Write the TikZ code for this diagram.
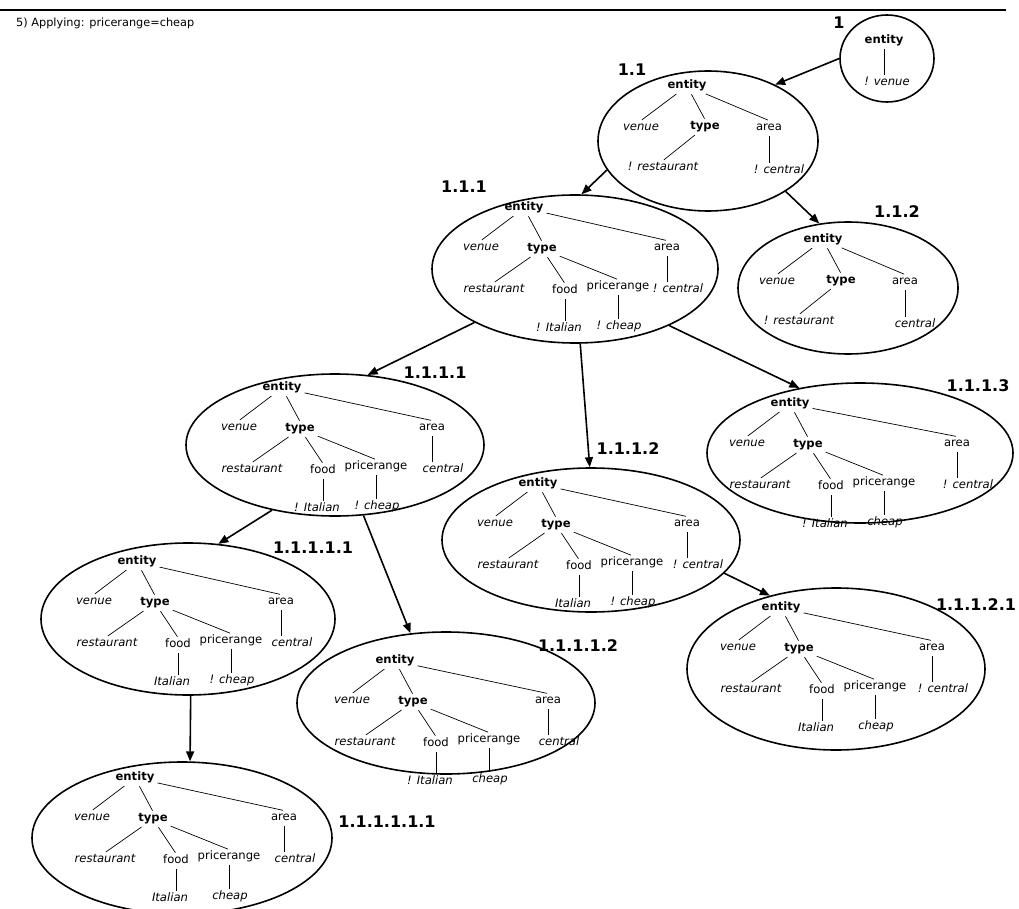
\documentclass[tikz,border=0pt]{standalone}
\usepackage{fontspec}
\setmainfont{DejaVu Sans}
\usetikzlibrary{shapes.geometric,arrows.meta}

\tikzset{
  dialstate/.style={draw, ellipse, line width=1.6pt, inner sep=0pt},
  stateno/.style={font=\fontsize{16}{18}\selectfont\bfseries, inner sep=1pt},
  treeword/.style={inner sep=2pt, text height=8pt, text depth=2.5pt, font=\fontsize{11.6}{13}\selectfont},
  headword/.style={treeword, font=\fontsize{11.6}{13}\selectfont\bfseries},
  slotword/.style={treeword},
  valword/.style={treeword, font=\fontsize{11.6}{13}\selectfont\itshape},
  branch/.style={line width=0.7pt, shorten <=1pt, shorten >=1pt},
  trans/.style={line width=1.6pt, -{Triangle[length=10pt,width=8pt]}}
}

% whole frame: #1 name, #2 x, #3 y, #4 area offset, #5 food value, #6 price value, #7 area value
\newcommand{\fulltree}[7]{%
\begin{scope}[shift={(#2,#3)}]
\node[headword] (#1e) at (0,0) {entity};
\node[valword] (#1v) at (-43,40) {venue};
\node[headword] (#1t) at (18,41) {type};
\node[slotword] (#1a) at (#4,40) {area};
\node[valword] (#1r) at (-30,82) {restaurant};
\node[slotword] (#1f) at (41,83) {food};
\node[slotword] (#1p) at (94,79) {pricerange};
\node[valword] (#1c) at ({#4+11},82) {#7};
\node[valword] (#1i) at (35,121) {#5};
\node[valword] (#1h) at (95,119) {#6};
\end{scope}
\draw[branch] (#1e) -- (#1v.north);
\draw[branch] (#1e) -- (#1t.north);
\draw[branch] (#1e) -- (#1a.north);
\draw[branch] (#1t) -- (#1r.north);
\draw[branch] (#1t) -- (#1f.north);
\draw[branch] (#1t) -- (#1p.north);
\draw[branch] (#1a) -- (#1a |- #1c.north);
\draw[branch] (#1f) -- (#1f |- #1i.north);
\draw[branch] (#1p) -- (#1p |- #1h.north);
}

% frame without food and price: #1 name, #2 x, #3 y, #4 type value, #5 area value
\newcommand{\parttree}[5]{%
\begin{scope}[shift={(#2,#3)}]
\node[headword] (#1e) at (0,0) {entity};
\node[valword] (#1v) at (-46,42) {venue};
\node[headword] (#1t) at (18,41) {type};
\node[slotword] (#1a) at (82,42) {area};
\node[valword] (#1r) at (-24,82) {#4};
\node[valword] (#1c) at (92,85) {#5};
\end{scope}
\draw[branch] (#1e) -- (#1v.north);
\draw[branch] (#1e) -- (#1t.north);
\draw[branch] (#1e) -- (#1a.north);
\draw[branch] (#1t) -- (#1r.north);
\draw[branch] (#1a) -- (#1a |- #1c.north);
}

\begin{document}
\begin{tikzpicture}[x=1pt,y=-1pt]
\useasboundingbox (0,0) rectangle (1019,909);
\coordinate (rulel) at (0,10);
\coordinate (ruler) at (1006,10);
\draw[line width=2.6pt] (rulel) -- (ruler);
\node[anchor=base west, inner sep=0pt, font=\fontsize{11.3}{13}\selectfont] (title) at (16,27) {5) Applying: pricerange=cheap};

\node[dialstate, minimum width=94pt, minimum height=87pt] (s1) at (887,58.5) {};
\node[dialstate, minimum width=220pt, minimum height=140pt] (s11) at (708,141) {};
\node[dialstate, minimum width=286pt, minimum height=148pt] (s111) at (575,269) {};
\node[dialstate, minimum width=220pt, minimum height=132pt] (s112) at (848,288) {};
\node[dialstate, minimum width=298pt, minimum height=142pt] (s1111) at (335,445) {};
\node[dialstate, minimum width=298pt, minimum height=144pt] (s1112) at (591,540) {};
\node[dialstate, minimum width=306pt, minimum height=140pt] (s1113) at (860,453) {};
\node[dialstate, minimum width=294pt, minimum height=152pt] (s11111) at (188,619) {};
\node[dialstate, minimum width=298pt, minimum height=142pt] (s11112) at (446,703) {};
\node[dialstate, minimum width=298pt, minimum height=162pt] (s11121) at (836,669) {};
\node[dialstate, minimum width=300pt, minimum height=152pt] (s111111) at (182,838) {};

\node[stateno] (l1) at (839,23) {1};
\node[stateno] (l11) at (632,70) {1.1};
\node[stateno] (l111) at (464,187) {1.1.1};
\node[stateno] (l112) at (897,212) {1.1.2};
\node[stateno] (l1111) at (435,373) {1.1.1.1};
\node[stateno] (l1112) at (628,449) {1.1.1.2};
\node[stateno] (l1113) at (978,386) {1.1.1.3};
\node[stateno] (l11111) at (313,548) {1.1.1.1.1};
\node[stateno] (l11112) at (578,646) {1.1.1.1.2};
\node[stateno] (l11121) at (976,605) {1.1.1.2.1};
\node[stateno] (l111111) at (387,822) {1.1.1.1.1.1};

\node[headword] (t1e) at (884,41) {entity};
\node[valword] (t1v) at (887,83) {! venue};
\draw[branch] (t1e) -- (t1e |- t1v.north);

\parttree{t11}{687}{86}{! restaurant}{! central}
\parttree{t112}{823}{240}{! restaurant}{central}

\fulltree{t111}{524}{208}{143}{! Italian}{! cheap}{! central}
\fulltree{t1111}{282}{388}{150}{! Italian}{! cheap}{central}
\fulltree{t1112}{538}{484}{149}{Italian}{! cheap}{! central}
\fulltree{t1113}{790}{404}{167}{! Italian}{cheap}{! central}
\fulltree{t11111}{137}{562}{144}{Italian}{! cheap}{central}
\fulltree{t11112}{395}{661}{153}{! Italian}{cheap}{central}
\fulltree{t11121}{781}{608}{151}{Italian}{cheap}{! central}
\fulltree{t111111}{135}{778}{149}{Italian}{cheap}{central}

\draw[trans] (s1.180) -- (s11.40);
\draw[trans] (s11.196) -- (s111.85);
\draw[trans] (s11.-33) -- (s112.114);
\draw[trans] (s111.208) -- (s1111.65);
\draw[trans] (s111.-86) -- (s1112.91);
\draw[trans] (s111.-31) -- (s1113.133);
\draw[trans] (s1111.-134) -- (s11111.68);
\draw[trans] (s1111.-68) -- (s11112.117);
\draw[trans] (s1112.-14) -- (s11121.132);
\draw[trans] (s11111.-88) -- (s111111.84);
\end{tikzpicture}
\end{document}
